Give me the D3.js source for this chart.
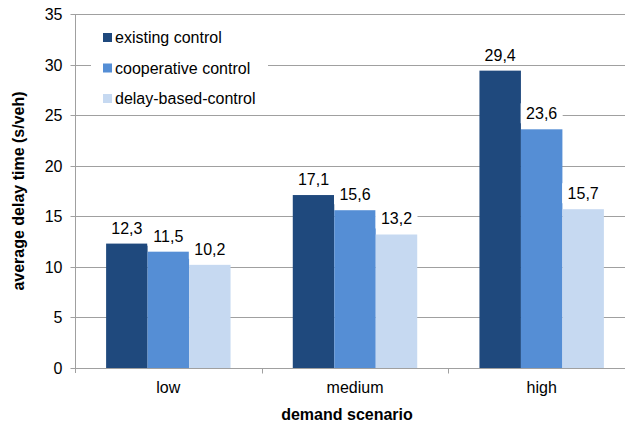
<!DOCTYPE html>
<html>
<head>
<meta charset="utf-8">
<script src="https://cdn.jsdelivr.net/npm/d3@7"></script>
<style>
  html, body { margin: 0; padding: 0; background: #fff; }
  svg { display: block; font-family: "Liberation Sans", Arial, sans-serif; }
</style>
</head>
<body>
<svg id="chart" width="625" height="426"></svg>
<script>
// Demand scenarios and average delay per control strategy (s/veh)
const categories = ["low", "medium", "high"];
const seriesNames = ["existing control", "cooperative control", "delay-based-control"];
const existingControl = [12.3, 17.1, 29.4];
const cooperativeControl = [11.5, 15.6, 23.6];
const delayBasedControl = [10.2, 13.2, 15.7];
const yTicks = [0, 5, 10, 15, 20, 25, 30, 35];

const seriesValues = [existingControl, cooperativeControl, delayBasedControl];
const colors = ["#1F497D", "#558ED5", "#C6D9F1"];

const svg = d3.select("#chart");
const plot = { left: 75, right: 635, top: 14, bottom: 368 };

const x0 = d3.scaleBand().domain(categories).range([plot.left, plot.right]).paddingInner(0).paddingOuter(0);
const x1 = d3.scaleBand().domain(d3.range(seriesNames.length))
  .range([0, x0.bandwidth()]).paddingInner(0).paddingOuter(0.75);
const y = d3.scaleLinear().domain([0, 35]).range([plot.bottom, plot.top]);

const gridColor = "#a0a0a0";

// Horizontal gridlines
svg.append("g")
  .selectAll("line")
  .data(yTicks.filter(t => t > 0))
  .join("line")
  .attr("x1", plot.left).attr("x2", plot.right)
  .attr("y1", d => Math.round(y(d)) + 0.5).attr("y2", d => Math.round(y(d)) + 0.5)
  .attr("stroke", gridColor).attr("stroke-width", 1);

// Y axis
const yAxis = svg.append("g")
  .attr("transform", `translate(${plot.left + 0.5},0)`)
  .call(d3.axisLeft(y).tickValues(yTicks).tickSize(5).tickPadding(8));
yAxis.select(".domain").attr("stroke", gridColor).attr("d", `M0,${plot.top}V${plot.bottom + 5}`);
yAxis.selectAll(".tick line").attr("stroke", gridColor);
yAxis.selectAll(".tick text").attr("font-size", 16).attr("fill", "#000")
  .attr("font-family", "Liberation Sans, Arial, sans-serif");
yAxis.selectAll(".tick").attr("transform", d => `translate(0,${Math.round(y(d)) + 0.5})`);

// X axis baseline and category boundary ticks
const xAxisG = svg.append("g").attr("transform", `translate(0,${plot.bottom + 0.5})`);
xAxisG.append("line").attr("x1", plot.left).attr("x2", plot.right)
  .attr("stroke", gridColor);
xAxisG.selectAll("line.bound")
  .data(categories.slice(1))
  .join("line").attr("class", "bound")
  .attr("x1", d => Math.round(x0(d)) + 0.5).attr("x2", d => Math.round(x0(d)) + 0.5)
  .attr("y1", 0).attr("y2", 5)
  .attr("stroke", gridColor);
xAxisG.selectAll("text")
  .data(categories)
  .join("text")
  .attr("x", d => x0(d) + x0.bandwidth() / 2)
  .attr("y", 24)
  .attr("text-anchor", "middle")
  .attr("font-size", 16)
  .text(d => d);

// Bars
const groups = svg.append("g").selectAll("g")
  .data(categories)
  .join("g")
  .attr("transform", d => `translate(${x0(d)},0)`);

groups.selectAll("rect")
  .data((c, ci) => seriesValues.map((vals, si) => ({ si, v: vals[ci] })))
  .join("rect")
  .attr("x", d => x1(d.si))
  .attr("width", x1.bandwidth())
  .attr("y", d => y(d.v))
  .attr("height", d => y(0) - y(d.v))
  .attr("fill", d => colors[d.si]);

// Value labels with white backing
const fmt = v => d3.format(".1f")(v).replace(".", ",");
const labels = groups.selectAll("g.lbl")
  .data((c, ci) => seriesValues.map((vals, si) => ({ si, v: vals[ci] })))
  .join("g").attr("class", "lbl")
  .attr("transform", d => `translate(${x1(d.si) + x1.bandwidth() / 2},${y(d.v) - 10})`);
labels.append("rect")
  .attr("x", -21).attr("y", -16).attr("width", 42).attr("height", 20)
  .attr("fill", "#fff");
labels.append("text")
  .attr("text-anchor", "middle")
  .attr("font-size", 16)
  .text(d => fmt(d.v));

// Legend
const legend = svg.append("g");
legend.append("rect").attr("x", 91).attr("y", 22).attr("width", 177).attr("height", 92).attr("fill", "#fff");
const legendRows = legend.selectAll("g")
  .data(seriesNames)
  .join("g")
  .attr("transform", (d, i) => `translate(103,${37 + i * 30.5})`);
legendRows.append("rect")
  .attr("x", 0).attr("y", -4).attr("width", 9).attr("height", 9)
  .attr("fill", (d, i) => colors[i]);
legendRows.append("text")
  .attr("x", 12).attr("y", 6)
  .attr("font-size", 16)
  .text(d => d);

// Axis titles
svg.append("text")
  .attr("transform", `translate(24,${(plot.top + plot.bottom) / 2}) rotate(-90)`)
  .attr("text-anchor", "middle")
  .attr("font-size", 16).attr("font-weight", "bold")
  .text("average delay time (s/veh)");

svg.append("text")
  .attr("x", (plot.left + plot.right) / 2 - 8)
  .attr("y", 420)
  .attr("text-anchor", "middle")
  .attr("font-size", 16).attr("font-weight", "bold")
  .text("demand scenario");
</script>
</body>
</html>
